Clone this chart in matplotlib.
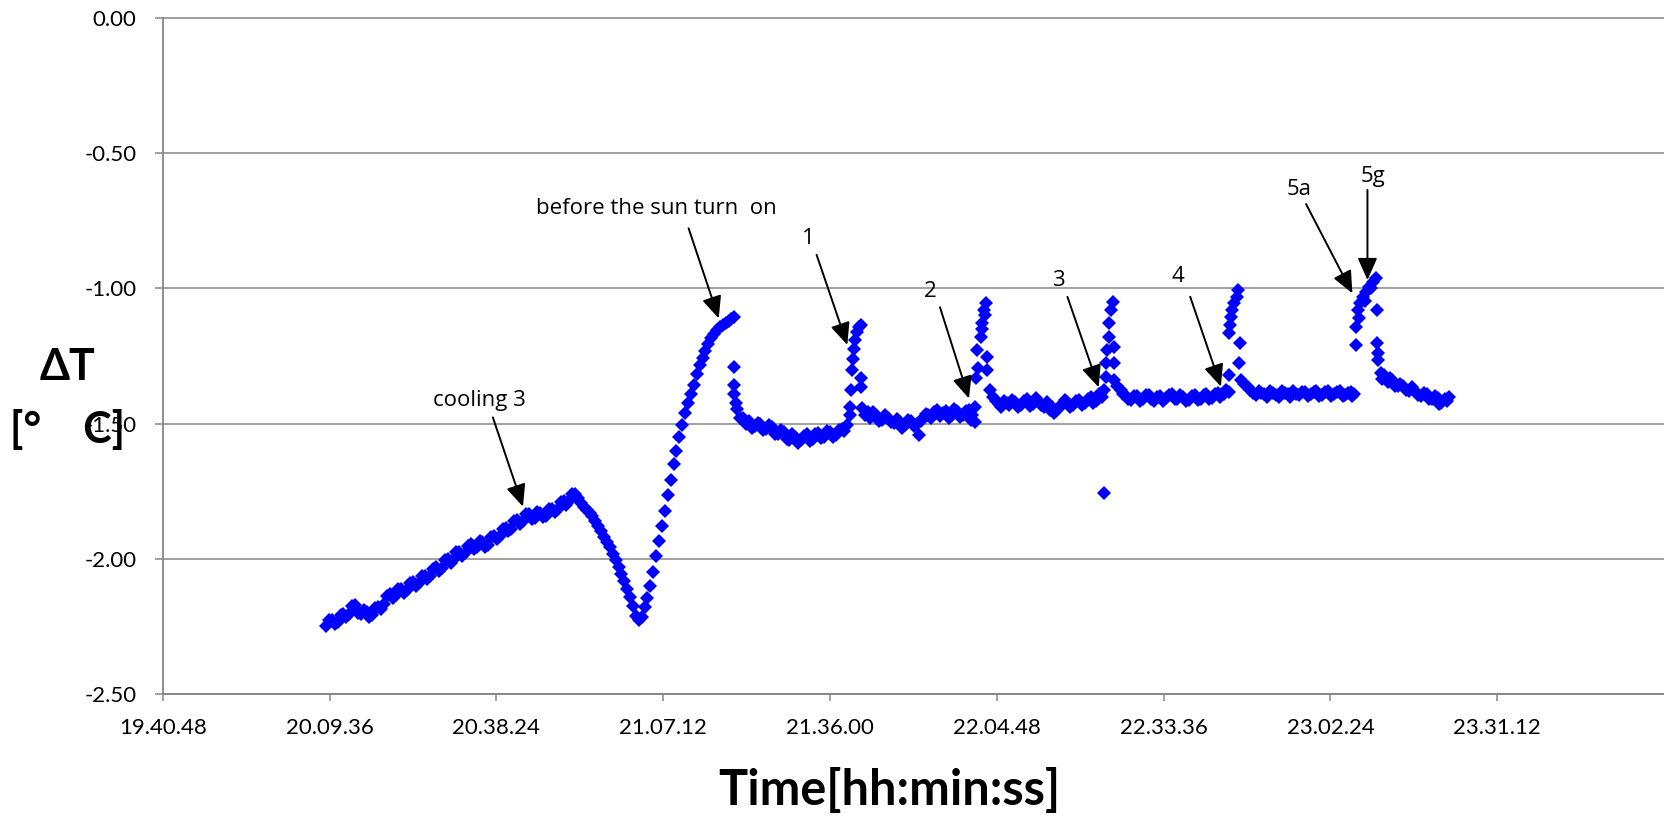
import numpy as np
import matplotlib.pyplot as plt
from matplotlib.ticker import FixedLocator, FuncFormatter, FormatStrFormatter

# time in minutes after 20:00:00, dT in deg C
cooling_t = list(range(9, 53)) + [k + 0.5 for k in range(9, 52)]
cooling_v = [-2.250, -2.228, -2.232, -2.205, -2.204, -2.172, -2.203, -2.198, -2.208, -2.178,
             -2.168, -2.130, -2.133, -2.110, -2.116, -2.087, -2.090, -2.062, -2.064, -2.032,
             -2.033, -2.002, -2.003, -1.974, -1.978, -1.947, -1.956, -1.938, -1.948, -1.914,
             -1.914, -1.885, -1.888, -1.858, -1.860, -1.834, -1.848, -1.830, -1.840, -1.814,
             -1.816, -1.787, -1.788, -1.760,
             -2.226, -2.240, -2.206, -2.216, -2.176, -2.200, -2.188, -2.215, -2.181, -2.185,
             -2.137, -2.144, -2.110, -2.125, -2.090, -2.100, -2.064, -2.075, -2.036, -2.045,
             -2.006, -2.014, -1.976, -1.988, -1.951, -1.963, -1.935, -1.955, -1.919, -1.926,
             -1.888, -1.898, -1.861, -1.871, -1.835, -1.853, -1.827, -1.847, -1.815, -1.827,
             -1.790, -1.800, -1.761]

dip_t = [52.5, 53.0, 53.5, 54.0, 54.5, 55.0, 55.5, 56.0, 56.5, 57.0, 57.5, 58.0, 58.5, 59.0,
         59.5, 60.0, 60.5, 61.0, 61.5, 62.0, 62.5, 63.0, 63.5, 64.0, 64.5, 65.0, 65.5, 66.0,
         66.5, 67.0, 67.5, 68.0, 68.5, 69.0, 69.5, 70.0, 70.5, 71.0, 71.5, 72.0, 72.5, 73.0,
         73.5, 74.0, 74.5, 75.0, 75.5, 76.0, 76.5, 77.0, 77.5, 78.0, 78.5, 79.0, 79.5]
dip_v = [-1.775, -1.795, -1.807, -1.818, -1.832, -1.843, -1.862, -1.880, -1.898, -1.918,
         -1.937, -1.958, -1.982, -2.005, -2.030, -2.056, -2.083, -2.110, -2.140, -2.175,
         -2.210, -2.226, -2.215, -2.180, -2.145, -2.100, -2.050, -1.990, -1.935, -1.878,
         -1.822, -1.765, -1.708, -1.650, -1.600, -1.550, -1.505, -1.462, -1.425, -1.392,
         -1.356, -1.318, -1.284, -1.258, -1.230, -1.205, -1.185, -1.168, -1.155, -1.143,
         -1.135, -1.127, -1.120, -1.112, -1.106]

step1_t = [79.4, 79.4, 79.5, 79.7, 80.0, 80.5, 81, 81.5, 82, 83, 84, 85, 86, 87, 88, 89, 90,
           91, 92, 93, 94, 95, 96, 97, 98, 98.5, 99,
           99.4, 99.5, 99.7, 99.8, 100.0, 100.2, 100.4, 100.7, 101.0, 101.3, 101.3, 101.3,
           82.5, 83.5, 84.5, 85.5, 86.5, 87.5, 88.5, 89.5, 90.5, 91.5, 92.5, 93.5, 94.5,
           95.5, 96.5, 97.5]
step1_v = [-1.292, -1.357, -1.390, -1.425, -1.445, -1.478, -1.478, -1.500, -1.490, -1.508,
           -1.500, -1.520, -1.512, -1.540, -1.532, -1.560, -1.548, -1.560, -1.540, -1.558,
           -1.536, -1.550, -1.530, -1.542, -1.520, -1.528, -1.505,
           -1.470, -1.437, -1.376, -1.300, -1.260, -1.225, -1.190, -1.160, -1.142, -1.135,
           -1.333, -1.363,
           -1.515, -1.496, -1.525, -1.505, -1.538, -1.522, -1.556, -1.540, -1.570, -1.545,
           -1.565, -1.540, -1.555, -1.528, -1.548, -1.522]

step2_t = [101.6, 102, 102.5, 103, 104, 105, 106, 107, 108, 109, 110, 111, 111.4, 112, 113,
           114, 115, 116, 117, 118, 119, 120, 120.5, 121, 121,
           121.3, 121.6, 121.4, 123.2, 122.0, 122.3, 122.6, 123.0, 122.8, 122.2, 123.2,
           103.5, 104.5, 105.5, 106.5, 107.5, 108.5, 109.5, 110.5, 111.8, 112.5, 113.5,
           114.5, 115.5, 116.5, 117.5, 118.5, 119.5, 120.3]
step2_v = [-1.444, -1.470, -1.458, -1.478, -1.468, -1.485, -1.478, -1.498, -1.490, -1.505,
           -1.490, -1.500, -1.542, -1.478, -1.470, -1.458, -1.472, -1.455, -1.470, -1.452,
           -1.468, -1.448, -1.470, -1.440, -1.495,
           -1.330, -1.295, -1.228, -1.253, -1.179, -1.129, -1.080, -1.055, -1.100, -1.150,
           -1.300,
           -1.458, -1.490, -1.470, -1.495, -1.482, -1.515, -1.485, -1.508, -1.490, -1.465,
           -1.480, -1.448, -1.462, -1.478, -1.446, -1.475, -1.455, -1.485]

step3_t = [123.7, 124.2, 124.7, 125.2, 126, 127, 128, 129, 130, 131, 132, 133, 134, 134.7,
           135.5, 136, 137, 138, 139, 140, 141, 142, 142.5, 143, 143.3, 143.4,
           143.6, 143.6, 143.9, 144.2, 144.2, 144.5, 144.8, 145.0, 145.0,
           125.6, 126.5, 127.5, 128.5, 129.5, 130.5, 131.5, 132.5, 133.5, 134.3, 135.0,
           136.5, 137.5, 138.5, 139.5, 140.5, 141.5, 142.2, 142.8]
step3_v = [-1.376, -1.400, -1.418, -1.428, -1.415, -1.432, -1.420, -1.430, -1.410, -1.428,
           -1.415, -1.438, -1.448, -1.462, -1.440, -1.430, -1.420, -1.432, -1.412, -1.425,
           -1.400, -1.415, -1.392, -1.400, -1.376, -1.758,
           -1.327, -1.277, -1.228, -1.179, -1.129, -1.080, -1.049, -1.216, -1.277,
           -1.440, -1.425, -1.412, -1.440, -1.418, -1.435, -1.405, -1.430, -1.420, -1.440,
           -1.452, -1.412, -1.438, -1.418, -1.430, -1.408, -1.425, -1.408, -1.385]

step4_t = [145.0, 145.5, 146.2, 147, 148, 149, 150, 151, 152, 153, 154, 155, 156, 157, 158,
           159, 160, 161, 162, 163, 163.7, 164.3, 164.9, 164.9,
           164.9, 165.0, 165.2, 165.5, 165.8, 166.2, 166.5, 166.8, 166.6,
           146.6, 147.5, 148.5, 149.5, 150.5, 151.5, 152.5, 153.5, 154.5, 155.5, 156.5,
           157.5, 158.5, 159.5, 160.5, 161.5, 162.5, 163.3, 164.0]
step4_v = [-1.339, -1.360, -1.376, -1.395, -1.413, -1.398, -1.410, -1.395, -1.415, -1.398,
           -1.405, -1.392, -1.410, -1.400, -1.412, -1.395, -1.408, -1.392, -1.405, -1.385,
           -1.392, -1.375, -1.382, -1.320,
           -1.166, -1.135, -1.105, -1.080, -1.055, -1.030, -1.006, -1.203, -1.277,
           -1.392, -1.408, -1.398, -1.418, -1.395, -1.410, -1.400, -1.418, -1.395, -1.408,
           -1.395, -1.415, -1.398, -1.412, -1.395, -1.410, -1.392, -1.400, -1.390]

step5_t = [166.9, 167.5, 168.1, 169, 170, 171, 172, 173, 174, 175, 176, 177, 178, 179, 180,
           181, 182, 183, 184, 185, 186, 186.5, 186.8,
           186.8, 187.1, 187.3, 187.5, 188.0, 188.3, 188.5, 189.1, 189.4, 189.7, 190.25, 190.4,
           190.4, 190.6, 190.7, 191.1, 191.6, 192.3, 193, 194, 195, 196, 197, 198, 199, 200,
           201, 201.5, 202.2, 202.9,
           168.5, 169.5, 170.5, 171.5, 172.5, 173.5, 174.5, 175.5, 176.5, 177.5, 178.5,
           179.5, 180.5, 181.5, 182.5, 183.5, 184.5, 185.5, 186.2,
           191.3, 192.7, 193.5, 194.5, 195.5, 196.5, 197.5, 198.5, 199.5, 200.5, 201.2, 202.5]
step5_v = [-1.339, -1.355, -1.365, -1.385, -1.378, -1.392, -1.380, -1.395, -1.380, -1.392,
           -1.378, -1.395, -1.382, -1.390, -1.380, -1.393, -1.378, -1.392, -1.380, -1.395,
           -1.382, -1.392, -1.209,
           -1.142, -1.080, -1.110, -1.055, -1.031, -1.045, -1.012, -0.994, -1.000, -0.978,
           -0.963, -1.080,
           -1.203, -1.240, -1.265, -1.314, -1.322, -1.345, -1.340, -1.362, -1.360, -1.380,
           -1.378, -1.398, -1.392, -1.410, -1.405, -1.425, -1.410, -1.400,
           -1.375, -1.395, -1.385, -1.400, -1.388, -1.402, -1.386, -1.400, -1.390, -1.384,
           -1.398, -1.384, -1.398, -1.384, -1.398, -1.384, -1.398, -1.386, -1.398,
           -1.335, -1.332, -1.362, -1.352, -1.375, -1.365, -1.395, -1.385, -1.408, -1.398,
           -1.428, -1.415]

# annotations: (text, text pos, arrow start, arrow tip) in (minutes, dT)
notes = [
    ("cooling 3", (35.5, -1.416), (37.8, -1.477), (43.0, -1.807)),
    ("before the sun turn  on", (66.0, -0.703), (71.6, -0.778), (76.8, -1.111)),
    ("1", (92.3, -0.815), (93.7, -0.876), (99.0, -1.209)),
    ("2", (113.4, -1.012), (115.0, -1.070), (120.0, -1.407)),
    ("3", (135.4, -0.969), (137.0, -1.031), (142.4, -1.366)),
    ("4", (156.0, -0.957), (158.2, -1.031), (163.5, -1.363)),
    ("5a", (177.0, -0.636), (178.2, -0.688), (186.2, -1.018)),
    ("5g", (189.8, -0.587), (188.8, -0.636), (188.8, -0.969)),
]

xtick_days = [0.82 + 0.02 * k for k in range(9)]
ytick_vals = [0.0, -0.5, -1.0, -1.5, -2.0, -2.5]


def day(tmin):
    return (1200.0 + np.asarray(tmin, dtype=float)) / 1440.0


def hms(x, pos):
    s = int(round(x * 86400))
    return f"{(s // 3600) % 24}.{(s % 3600) // 60:02d}.{s % 60:02d}"


t_all = np.concatenate([cooling_t, dip_t, step1_t, step2_t, step3_t, step4_t, step5_t])
v_all = np.concatenate([cooling_v, dip_v, step1_v, step2_v, step3_v, step4_v, step5_v])

plt.rcParams['font.family'] = ['Lato', 'DejaVu Sans']

W, H = 1664, 819
fig = plt.figure(figsize=(W / 100, H / 100), dpi=100)
ax = fig.add_axes([162.7 / W, 1 - 694 / H, 1 - 162.7 / W, (694 - 18) / H])

ax.plot(day(t_all), v_all, linestyle='none', marker='D', ms=7.2, mew=0, color='#0000FF', zorder=3)

for label, txt, start, tip in notes:
    ax.text(day(txt[0]), txt[1], label, fontsize=16, ha='center', va='center',
            family=['Open Sans', 'DejaVu Sans'])
    ax.annotate('', xy=(day(tip[0]), tip[1]), xytext=(day(start[0]), start[1]),
                arrowprops=dict(arrowstyle='-|>,head_length=0.9,head_width=0.4',
                                mutation_scale=15, lw=1.4, color='black',
                                shrinkA=0, shrinkB=0), zorder=4)

ax.set_xlim(0.82, 1.0)
ax.set_ylim(-2.5, 0)
ax.xaxis.set_major_locator(FixedLocator(xtick_days))
ax.xaxis.set_major_formatter(FuncFormatter(hms))
ax.yaxis.set_major_locator(FixedLocator(ytick_vals))
ax.yaxis.set_major_formatter(FormatStrFormatter('%.2f'))

grey = '#868686'
for side in ['top', 'right']:
    ax.spines[side].set_visible(False)
for side in ['left', 'bottom']:
    ax.spines[side].set_color(grey)
    ax.spines[side].set_linewidth(1.3)
ax.yaxis.grid(True, color=grey, lw=1.1, clip_on=False)
ax.set_axisbelow(True)
ax.tick_params(axis='y', length=6, width=1.1, color=grey, pad=13, labelsize=16)
ax.tick_params(axis='x', length=5, width=1.1, color=grey, pad=12, labelsize=16)

fig.text(889 / W, 1 - 790 / H, "Time[hh:min:ss]", fontsize=35, fontweight='bold',
         ha='center', va='center')
fig.text(68 / W, 1 - 367 / H, "\u0394T", fontsize=31, fontweight='bold',
         ha='center', va='center')
fig.text(68 / W, 1 - 430 / H, "[\u00b0    C]", fontsize=31, fontweight='bold',
         ha='center', va='center')

fig.savefig('out.png', dpi=100)
